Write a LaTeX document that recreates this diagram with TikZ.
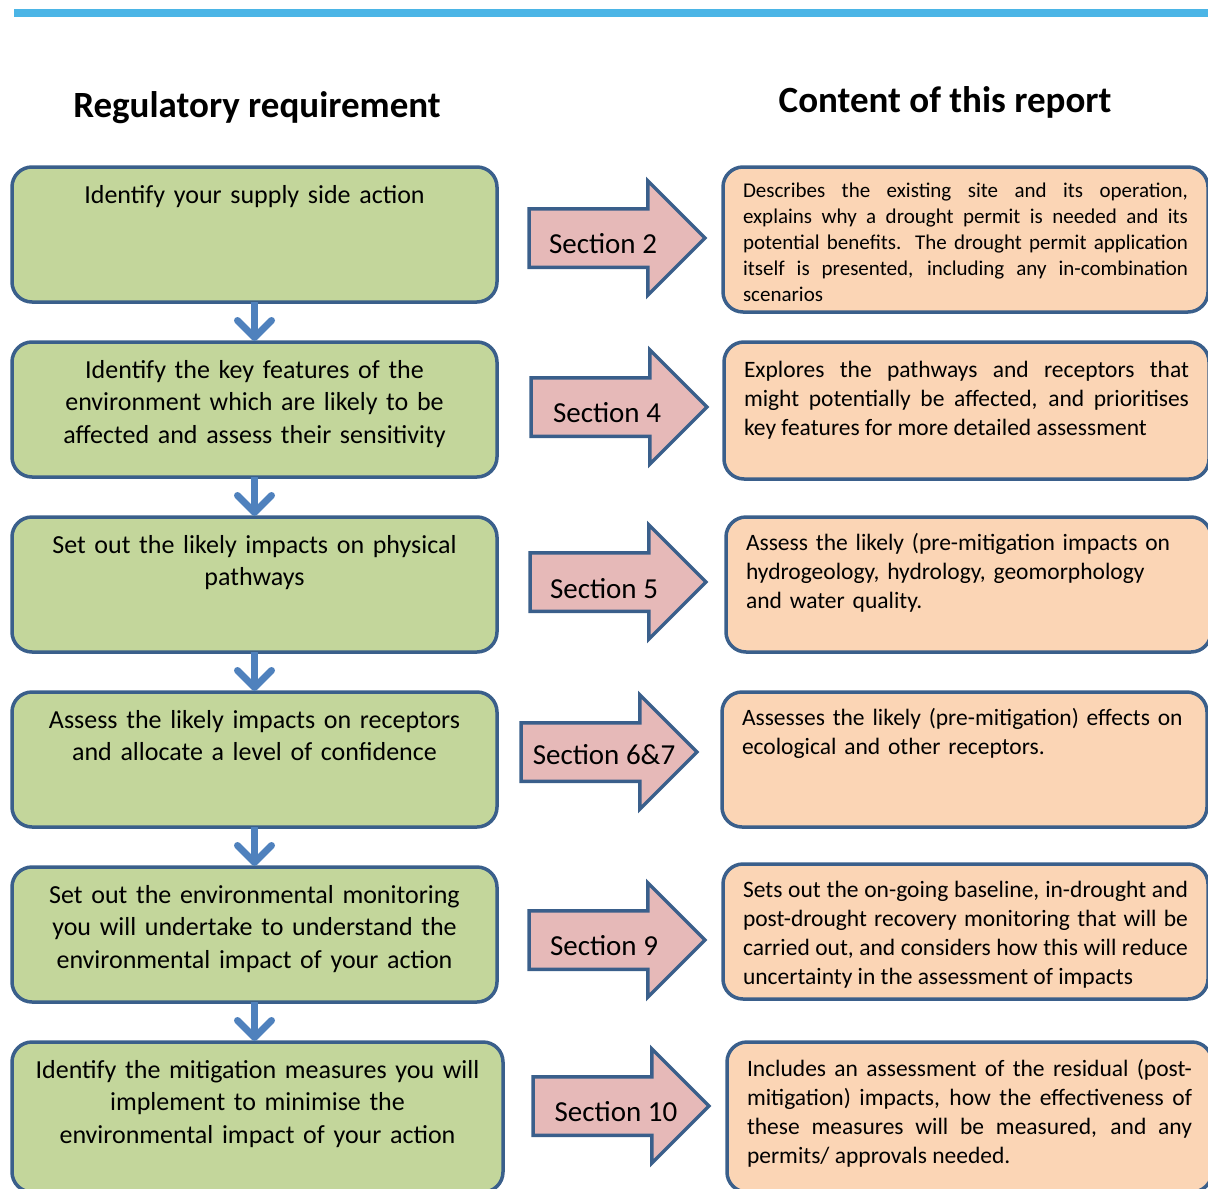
\documentclass[tikz,border=0pt]{standalone}
\usepackage{fontspec}
\setmainfont{Carlito}
\usetikzlibrary{arrows.meta, positioning, shapes.arrows}

\definecolor{bdr}{HTML}{3A5F8B}
\definecolor{reqgreen}{HTML}{C3D69B}
\definecolor{reporange}{HTML}{FBD5B5}
\definecolor{sectpink}{HTML}{E6B9B8}
\definecolor{flowblue}{HTML}{4F81BD}
\definecolor{topblue}{HTML}{4BB5E6}

\hyphenpenalty=10000
\exhyphenpenalty=10000

\begin{document}
\begin{tikzpicture}[x=1pt, y=-1pt, node distance=40pt,
    req/.style={rectangle, draw=bdr, line width=3.5pt, outer sep=0pt, rounded corners=20pt, fill=reqgreen, text width=470pt, inner xsep=7.5pt, inner ysep=0pt, align=center, text height=36pt, text depth=99pt, font=\fontsize{26}{32.5}\selectfont},
    rep/.style={rectangle, draw=bdr, line width=3.5pt, outer sep=0pt, rounded corners=20pt, fill=reporange, anchor=north west, text width=445pt, inner xsep=20pt, inner ysep=0pt, align=justify, font=\fontsize{23.5}{29.3}\selectfont},
    sect/.style={single arrow, draw=bdr, line width=3.5pt, outer sep=0pt, fill=sectpink, anchor=tip, single arrow head extend=28pt, minimum height=176pt, inner xsep=2pt, text height=27pt, text depth=0pt, inner ysep=14pt},
    secttext/.style={font=\fontsize{29}{29}\selectfont},
    flow/.style={draw=flowblue, line width=7pt, shorten >=1pt, -{Straight Barb[length=17pt, width=34pt, round]}},
    title/.style={font=\bfseries\fontsize{37}{37}\selectfont}]
  \useasboundingbox (0,0) rectangle (1208,1189);
  \draw[topblue, line width=8pt] (14,13) -- (1208,13);

  % headings
  \node (reqtitle) [title] at (257,108) {Regulatory requirement};
  \node (reptitle) [title] at (945,102) {Content of this report};

  % regulatory requirement
  \node (g1) [req, anchor=north] at (254.5,167) {Identify your supply side action};
  \node (g2) [req, below=of g1] {Identify the key features of the\\environment which are likely to be\\affected and assess their sensitivity};
  \node (g3) [req, below=of g2] {Set out the likely impacts on physical\\pathways};
  \node (g4) [req, below=of g3] {Assess the likely impacts on receptors\\and allocate a level of confidence};
  \node (g5) [req, below=of g4] {Set out the environmental monitoring\\you will undertake to understand the\\environmental impact of your action};
  \node (g6) [req, below=of g5, xshift=3pt, text width=476pt, text depth=114pt] {Identify the mitigation measures you will\\implement to minimise the\\environmental impact of your action};

  \draw[flow] (g1) -- (g2);
  \draw[flow] (g2) -- (g3);
  \draw[flow] (g3) -- (g4);
  \draw[flow] (g4) -- (g5);
  \draw[flow] (g5.south -| g1) -- (g6.north -| g1);

  % sections
  \node (s1) [sect] at (705,238) {};
  \node (s2) [sect] at (707,407) {};
  \node (s3) [sect] at (706,582) {};
  \node (s4) [sect] at (697,752) {};
  \node (s5) [sect] at (705,940) {};
  \node (s6) [sect] at (709,1106) {};
  \node (s1t) [secttext] at (603,244) {Section 2};
  \node (s2t) [secttext] at (607,413) {Section 4};
  \node (s3t) [secttext] at (604,589) {Section 5};
  \node (s4t) [secttext] at (604,755) {Section 6\&7};
  \node (s5t) [secttext] at (604,946) {Section 9};
  \node (s6t) [secttext] at (616,1112) {Section 10};

  % content of this report
  \node (r1) [rep, text height=30pt, text depth=115pt, font=\fontsize{21}{26}\selectfont] at (723,167) {Describes the existing site and its operation,\linebreak explains why a drought permit is needed and its\linebreak potential benefits. The drought permit application\linebreak itself is presented, including any in-combination\linebreak scenarios};
  \node (r2) [rep, text height=35pt, text depth=102pt] at (724,342) {Explores the pathways and receptors that\linebreak might potentially be affected, and prioritises\linebreak key features for more detailed assessment};
  \node (r3) [rep, align=left, text height=33pt, text depth=102pt] at (726,517) {Assess the likely (pre-mitigation impacts on\\hydrogeology, hydrology, geomorphology\\and water quality.};
  \node (r4) [rep, align=left, text height=33pt, text depth=102pt] at (722,692) {Assesses the likely (pre-mitigation) effects on\\ecological and other receptors.};
  \node (r5) [rep, text height=33pt, text depth=102pt] at (723,864) {Sets out the on-going baseline, in-drought and\linebreak post-drought recovery monitoring that will be\linebreak carried out, and considers how this will reduce\linebreak uncertainty in the assessment of impacts};
  \node (r6) [rep, text height=34pt, text depth=116pt] at (727,1042) {Includes an assessment of the residual (post-\linebreak mitigation) impacts, how the effectiveness of\linebreak these measures will be measured, and any\linebreak permits/ approvals needed.};
\end{tikzpicture}
\end{document}
